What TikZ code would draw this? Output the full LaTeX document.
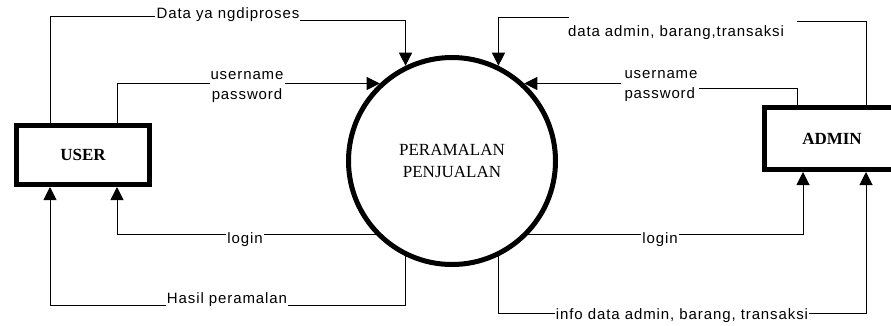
\documentclass[tikz,border=0pt]{standalone}
\usepackage{fontspec}
\setmainfont{Liberation Serif}
\newfontfamily\lblfont[LetterSpace=6]{Liberation Sans}
\usetikzlibrary{arrows.meta}

\tikzset{
  line/.style={line width=1pt},
  flow/.style={line width=1pt,-{Triangle[length=13pt,width=13pt]}},
  entity/.style={draw,line width=5pt,inner sep=0pt,font=\fontsize{17}{20}\selectfont\bfseries},
  lbl/.style={fill=white,inner sep=1pt,font=\lblfont\fontsize{15}{20}\selectfont}
}

\begin{document}
\begin{tikzpicture}[x=1pt,y=-1pt]
\path[use as bounding box,clip] (0,0) rectangle (891,325);
% process and entities
\node[circle,draw,line width=5pt,minimum size=207pt,inner sep=0pt,align=center,
  font=\fontsize{17}{22}\selectfont] (proc) at (452,161) {PERAMALAN\\PENJUALAN};
\node[entity,minimum width=133pt,minimum height=59pt] (user) at (83,155) {USER};
\node[entity,minimum width=135pt,minimum height=62pt] (admin) at (832,138.5) {ADMIN};
% loose ends where the lines stop at a label
\coordinate (dpL) at (155,16);
\coordinate (dpR) at (300,20);
\coordinate (daL) at (569,17);
\coordinate (daR) at (797,21);
\coordinate (upL) at (621,83);
\coordinate (upR) at (697,88);
% user -> process
\draw[line] ([xshift=-33pt]user.north) |- (dpL);
\draw[flow] (dpR) -| (proc.116);
\draw[flow] ([xshift=34pt]user.north) |- (proc.133);
% process -> user
\draw[flow] (proc.224) -| ([xshift=34pt]user.south);
\draw[flow] (proc.244) -- ++(0,49) -| ([xshift=-33pt]user.south);
% admin -> process
\draw[line] ([xshift=34pt]admin.north) |- (daR);
\draw[flow] (daL) -| (proc.64);
\draw[line] ([xshift=-35pt]admin.north) |- (upR);
\draw[flow] (proc.47 -| upL) -- (proc.47);
% process -> admin
\draw[flow] (proc.316) -| ([xshift=-29pt]admin.south);
\draw[flow] (proc.296) -- ++(0,57) -| ([xshift=34pt]admin.south);
% labels
\node[lbl] (ldp) at (228,15) {Data ya\hspace{5pt}ngdiproses};
\node[lbl,align=center] (lup1) at (247,87) {username\\password};
\node[lbl] (llg1) at (245,240) {login};
\node[lbl] (lhp) at (227,300) {Hasil peramalan};
\node[lbl] (lda) at (676,33) {data admin, barang,transaksi};
\node[lbl,align=left] (lup2) at (661,86) {username\\password};
\node[lbl] (llg2) at (660,240) {login};
\node[lbl] (lin) at (682,316) {info data admin, barang, transaksi};
\end{tikzpicture}
\end{document}
